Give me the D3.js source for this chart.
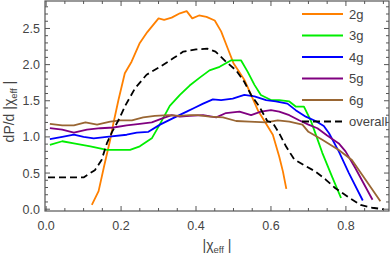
<!DOCTYPE html>
<html>
<head>
<meta charset="utf-8">
<script src="https://cdn.jsdelivr.net/npm/d3@7"></script>
<style>
  body { margin: 0; background: #fff; }
  svg { display: block; font-family: "Liberation Sans", Arial, sans-serif; }
</style>
</head>
<body>
<div id="chart"></div>
<script>
// curves: [|chi_eff|, dP/d|chi_eff|]
const g2 = [[0.122,0.06],[0.14,0.25],[0.155,0.6],[0.171,0.96],[0.18,1.2],[0.193,1.51],[0.21,1.88],[0.228,2.04],
  [0.25,2.30],[0.27,2.45],[0.30,2.64],[0.315,2.62],[0.335,2.65],[0.357,2.71],[0.375,2.74],[0.39,2.64],[0.408,2.68],
  [0.428,2.66],[0.45,2.61],[0.467,2.46],[0.485,2.22],[0.50,2.02],[0.515,1.90],[0.53,1.78],[0.547,1.58],[0.565,1.37],
  [0.585,1.2],[0.605,1.03],[0.622,0.73],[0.632,0.52],[0.641,0.28]];
const g3 = [[0.01,0.89],[0.043,0.94],[0.074,0.91],[0.118,0.87],[0.162,0.82],[0.224,0.82],[0.25,0.87],[0.282,0.98],
  [0.303,1.17],[0.33,1.43],[0.357,1.58],[0.383,1.71],[0.41,1.82],[0.436,1.92],[0.463,1.97],[0.494,2.06],[0.52,2.06],
  [0.538,1.90],[0.556,1.72],[0.573,1.58],[0.60,1.51],[0.622,1.51],[0.649,1.49],[0.666,1.42],[0.688,1.42],[0.706,1.23],
  [0.715,1.10],[0.737,0.78],[0.763,0.45],[0.787,0.155]];
const g4 = [[0.01,0.97],[0.043,1.0],[0.074,1.03],[0.10,1.0],[0.127,0.98],[0.162,1.0],[0.215,1.03],[0.242,1.06],
  [0.273,1.07],[0.304,1.17],[0.339,1.26],[0.375,1.35],[0.395,1.40],[0.419,1.46],[0.445,1.52],[0.467,1.51],[0.498,1.53],
  [0.529,1.58],[0.556,1.56],[0.587,1.51],[0.613,1.49],[0.644,1.46],[0.666,1.37],[0.693,1.28],[0.719,1.22],[0.741,1.15],
  [0.755,1.05],[0.781,0.80],[0.808,0.50],[0.845,0.12]];
const g5 = [[0.01,1.12],[0.043,1.10],[0.074,1.06],[0.109,1.10],[0.145,1.12],[0.18,1.13],[0.215,1.16],[0.25,1.18],
  [0.282,1.20],[0.312,1.26],[0.335,1.30],[0.357,1.28],[0.383,1.29],[0.419,1.30],[0.454,1.27],[0.48,1.33],[0.516,1.35],
  [0.547,1.30],[0.573,1.35],[0.60,1.37],[0.622,1.35],[0.649,1.30],[0.675,1.23],[0.70,1.17],[0.724,1.12],[0.75,1.02],
  [0.781,0.91],[0.799,0.80],[0.825,0.57],[0.871,0.13]];
const g6 = [[0.01,1.18],[0.043,1.16],[0.074,1.16],[0.105,1.20],[0.136,1.17],[0.171,1.21],[0.198,1.23],[0.229,1.23],
  [0.259,1.27],[0.29,1.29],[0.326,1.30],[0.357,1.29],[0.383,1.30],[0.405,1.30],[0.436,1.28],[0.472,1.27],[0.507,1.22],
  [0.542,1.21],[0.587,1.20],[0.618,1.23],[0.649,1.21],[0.684,1.17],[0.70,1.07],[0.737,0.96],[0.781,0.82],[0.816,0.68],
  [0.852,0.41],[0.892,0.11]];
const overall = [[0.005,0.44],[0.05,0.44],[0.10,0.44],[0.13,0.54],[0.148,0.68],[0.162,0.91],[0.176,1.07],[0.193,1.23],
  [0.212,1.44],[0.237,1.67],[0.268,1.86],[0.304,1.97],[0.34,2.09],[0.366,2.18],[0.40,2.21],[0.43,2.22],[0.452,2.18],
  [0.48,2.04],[0.507,1.92],[0.529,1.76],[0.547,1.58],[0.569,1.42],[0.59,1.22],[0.604,1.2],[0.622,1.05],[0.64,0.87],
  [0.662,0.69],[0.688,0.61],[0.719,0.52],[0.746,0.41],[0.772,0.29],[0.808,0.16],[0.839,0.06],[0.87,0.02],[0.90,0.0]];

const names = ["2g", "3g", "4g", "5g", "6g", "overall"];
const seriesData = [g2, g3, g4, g5, g6, overall];
const colors = ["#ff8000", "#00ee00", "#0000ff", "#800080", "#996633", "#000000"];

const xTicks = [0, 0.2, 0.4, 0.6, 0.8];
const yTicks = [0, 0.5, 1.0, 1.5, 2.0, 2.5];

const W = 390, H = 257;
const margin = {top: 1, right: 1, bottom: 46, left: 45};
const width = W - margin.left - margin.right,
      height = H - margin.top - margin.bottom;

const svg = d3.select("#chart").append("svg")
    .attr("width", W).attr("height", H)
  .append("g")
    .attr("transform", "translate(" + margin.left + "," + margin.top + ")");

const x = d3.scaleLinear().domain([-0.003, 0.915]).range([0, width]);
const y = d3.scaleLinear().domain([-0.025, 2.88]).range([height, 0]);

const frameCol = "#555";
const labCol = "#444";

// minor + major ticks, pointing inward, on all four sides
const xMinor = d3.range(0, 0.91, 0.05);
const yMinor = d3.range(0, 2.85, 0.1);
function isMajor(v, step) { return Math.abs(v / step - Math.round(v / step)) < 1e-6; }

const tk = svg.append("g").attr("stroke", frameCol).attr("stroke-width", 1);
xMinor.forEach(function(v) {
  const len = isMajor(v, 0.2) ? 5 : 3;
  tk.append("line").attr("x1", x(v)).attr("x2", x(v)).attr("y1", height).attr("y2", height - len);
  tk.append("line").attr("x1", x(v)).attr("x2", x(v)).attr("y1", 0).attr("y2", len);
});
yMinor.forEach(function(v) {
  const len = isMajor(v, 0.5) ? 5 : 3;
  tk.append("line").attr("y1", y(v)).attr("y2", y(v)).attr("x1", 0).attr("x2", len);
  tk.append("line").attr("y1", y(v)).attr("y2", y(v)).attr("x1", width).attr("x2", width - len);
});

svg.append("rect")
    .attr("x", 0).attr("y", 0).attr("width", width).attr("height", height)
    .attr("fill", "none").attr("stroke", frameCol).attr("stroke-width", 1.2);

// tick labels
svg.append("g").selectAll("text").data(xTicks).enter().append("text")
    .attr("x", function(d) { return x(d); })
    .attr("y", height + 19)
    .attr("text-anchor", "middle")
    .attr("font-size", 12.5).attr("fill", labCol)
    .text(function(d) { return d3.format(".1f")(d); });

svg.append("g").selectAll("text").data(yTicks).enter().append("text")
    .attr("x", -5)
    .attr("y", function(d) { return y(d) + 4.5; })
    .attr("text-anchor", "end")
    .attr("font-size", 12.5).attr("fill", labCol)
    .text(function(d) { return d3.format(".1f")(d); });

// curves
const line = d3.line()
    .x(function(d) { return x(d[0]); })
    .y(function(d) { return y(d[1]); });

const plot = svg.append("g");
seriesData.forEach(function(s, i) {
  plot.append("path")
      .datum(s)
      .attr("d", line)
      .attr("fill", "none")
      .attr("stroke", colors[i])
      .attr("stroke-width", 1.8)
      .attr("stroke-linejoin", "round")
      .attr("stroke-dasharray", names[i] === "overall" ? "7,4" : null);
});

// legend
const leg = svg.append("g").attr("transform", "translate(" + (302 - margin.left) + "," + (14 - margin.top) + ")");
names.forEach(function(n, i) {
  const row = leg.append("g").attr("transform", "translate(0," + (i * 21.5) + ")");
  row.append("line")
      .attr("x1", 0).attr("x2", 41).attr("y1", 0).attr("y2", 0)
      .attr("stroke", colors[i]).attr("stroke-width", 1.8)
      .attr("stroke-dasharray", n === "overall" ? "7,4" : null);
  row.append("text")
      .attr("x", 47).attr("y", 4.5)
      .attr("font-size", 13).attr("fill", labCol)
      .text(n);
});

// axis labels
const yl = svg.append("text")
    .attr("transform", "translate(" + (-31) + "," + (y(1.35)) + ") rotate(-90)")
    .attr("text-anchor", "middle")
    .attr("font-size", 14).attr("fill", labCol);
yl.append("tspan").text("dP/d |\u03C7");
yl.append("tspan").attr("font-size", 9.5).attr("dy", 3).text("eff");
yl.append("tspan").attr("dy", -3).text(" |");

const xl = svg.append("text")
    .attr("x", width / 2)
    .attr("y", height + 39)
    .attr("text-anchor", "middle")
    .attr("font-size", 14).attr("fill", labCol);
xl.append("tspan").text("|\u03C7");
xl.append("tspan").attr("font-size", 9.5).attr("dy", 2.5).text("eff");
xl.append("tspan").attr("dy", -2.5).text(" |");
</script>
</body>
</html>
